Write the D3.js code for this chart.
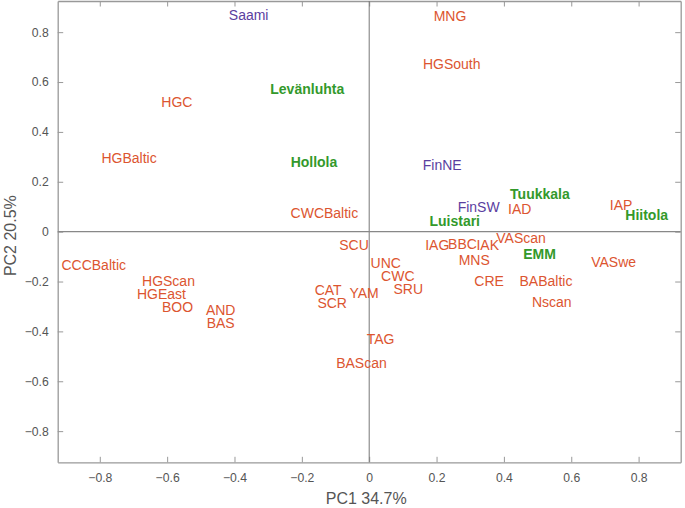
<!DOCTYPE html>
<html>
<head>
<meta charset="utf-8">
<script src="https://cdn.jsdelivr.net/npm/d3@7"></script>
<style>
  html, body { margin: 0; padding: 0; background: #fff; }
  svg { display: block; font-family: "Liberation Sans", Arial, sans-serif; }
</style>
</head>
<body>
<svg id="chart" width="685" height="508"></svg>
<script>
// Population labels and their PC coordinates (label centres)
const populations = ["Saami","Levänluhta","HGC","HGBaltic","Hollola","CWCBaltic","MNG","HGSouth","FinNE","Tuukkala","FinSW","IAD","IAP","Hiitola","Luistari","SCU","IAG","BBC","IAK","VAScan","EMM","MNS","VASwe","UNC","CWC","CRE","BABaltic","SRU","YAM","Nscan","TAG","BAScan","CCCBaltic","HGScan","HGEast","BOO","AND","BAS","CAT","SCR"];
const pc1 = [-0.358,-0.184,-0.571,-0.713,-0.164,-0.133,0.240,0.245,0.217,0.507,0.325,0.447,0.748,0.824,0.254,-0.045,0.202,0.277,0.352,0.451,0.506,0.312,0.726,0.049,0.085,0.356,0.525,0.116,-0.015,0.542,0.034,-0.023,-0.818,-0.596,-0.617,-0.569,-0.441,-0.441,-0.122,-0.110];
const pc2 = [0.868,0.571,0.519,0.296,0.279,0.076,0.866,0.672,0.266,0.151,0.100,0.092,0.107,0.068,0.042,-0.054,-0.052,-0.048,-0.053,-0.025,-0.088,-0.113,-0.120,-0.126,-0.179,-0.198,-0.196,-0.230,-0.247,-0.280,-0.430,-0.526,-0.134,-0.198,-0.250,-0.303,-0.316,-0.367,-0.233,-0.284];
// group: 0 = ancient reference, 1 = modern Finnish/Saami, 2 = Finnish sites
const groups = [1,2,0,0,2,0,0,0,1,2,1,0,0,2,2,0,0,0,0,0,2,0,0,0,0,0,0,0,0,0,0,0,0,0,0,0,0,0,0,0];
const xTicks = [-0.8,-0.6,-0.4,-0.2,0,0.2,0.4,0.6,0.8];
const yTicks = [-0.8,-0.6,-0.4,-0.2,0,0.2,0.4,0.6,0.8];
const xLabel = "PC1 34.7%";
const yLabel = "PC2 20.5%";

const groupColor = ["#dc5530", "#5a3e9f", "#33992b"];
const groupWeight = ["normal", "normal", "bold"];

const svg = d3.select("#chart");
const W = 685, H = 508;
const m = {left: 57.7, right: 4.3, top: 1, bottom: 45.7};
const x = d3.scaleLinear().domain([-0.925, 0.925]).range([m.left, W - m.right]);
const y = d3.scaleLinear().domain([-0.925, 0.925]).range([H - m.bottom, m.top]);
const fmt = d => d === 0 ? "0" : d3.format(".1f")(d);

const axisColor = "#999";
const tickLen = 5.5;

// bottom axis
const gB = svg.append("g").attr("transform", `translate(0,${y.range()[0]})`)
  .call(d3.axisBottom(x).tickValues(xTicks).tickFormat(fmt).tickSizeInner(-tickLen).tickSizeOuter(0).tickPadding(11));
// top axis
const gT = svg.append("g").attr("transform", `translate(0,${y.range()[1]})`)
  .call(d3.axisTop(x).tickValues(xTicks).tickFormat("").tickSizeInner(-tickLen).tickSizeOuter(0));
// left axis
const gL = svg.append("g").attr("transform", `translate(${x.range()[0]},0)`)
  .call(d3.axisLeft(y).tickValues(yTicks).tickFormat(fmt).tickSizeInner(-tickLen).tickSizeOuter(0).tickPadding(9));
// right axis
const gR = svg.append("g").attr("transform", `translate(${x.range()[1]},0)`)
  .call(d3.axisRight(y).tickValues(yTicks).tickFormat("").tickSizeInner(-tickLen).tickSizeOuter(0));

[gB, gT, gL, gR].forEach(g => {
  g.select(".domain").attr("stroke", axisColor).attr("stroke-width", 1.3);
  g.selectAll(".tick line").attr("stroke", axisColor).attr("stroke-width", 1);
  g.selectAll(".tick text").attr("fill", "#555").attr("font-size", 12.2)
    .attr("font-family", "'Liberation Sans', Arial, sans-serif");
});

// zero lines
svg.append("line")
  .attr("x1", x(0)).attr("x2", x(0)).attr("y1", y.range()[1]).attr("y2", y.range()[0])
  .attr("stroke", "#777").attr("stroke-width", 1);
svg.append("line")
  .attr("x1", x.range()[0]).attr("x2", x.range()[1]).attr("y1", y(0)).attr("y2", y(0))
  .attr("stroke", "#888").attr("stroke-width", 1.3);

// labels
svg.append("g").selectAll("text")
  .data(populations.map((n, i) => ({n, a: pc1[i], b: pc2[i], g: groups[i]})))
  .join("text")
  .attr("x", d => x(d.a))
  .attr("y", d => y(d.b))
  .attr("dy", "0.36em")
  .attr("text-anchor", "middle")
  .attr("font-size", 14)
  .attr("font-weight", d => groupWeight[d.g])
  .attr("fill", d => groupColor[d.g])
  .text(d => d.n);

// axis titles
svg.append("text")
  .attr("x", (x.range()[0] + x.range()[1]) / 2 - 3)
  .attr("y", 504)
  .attr("text-anchor", "middle")
  .attr("font-size", 16)
  .attr("fill", "#555")
  .text(xLabel);
svg.append("text")
  .attr("transform", `translate(15.5,${(y.range()[0] + y.range()[1]) / 2 + 4}) rotate(-90)`)
  .attr("text-anchor", "middle")
  .attr("font-size", 16)
  .attr("fill", "#555")
  .text(yLabel);
</script>
</body>
</html>
